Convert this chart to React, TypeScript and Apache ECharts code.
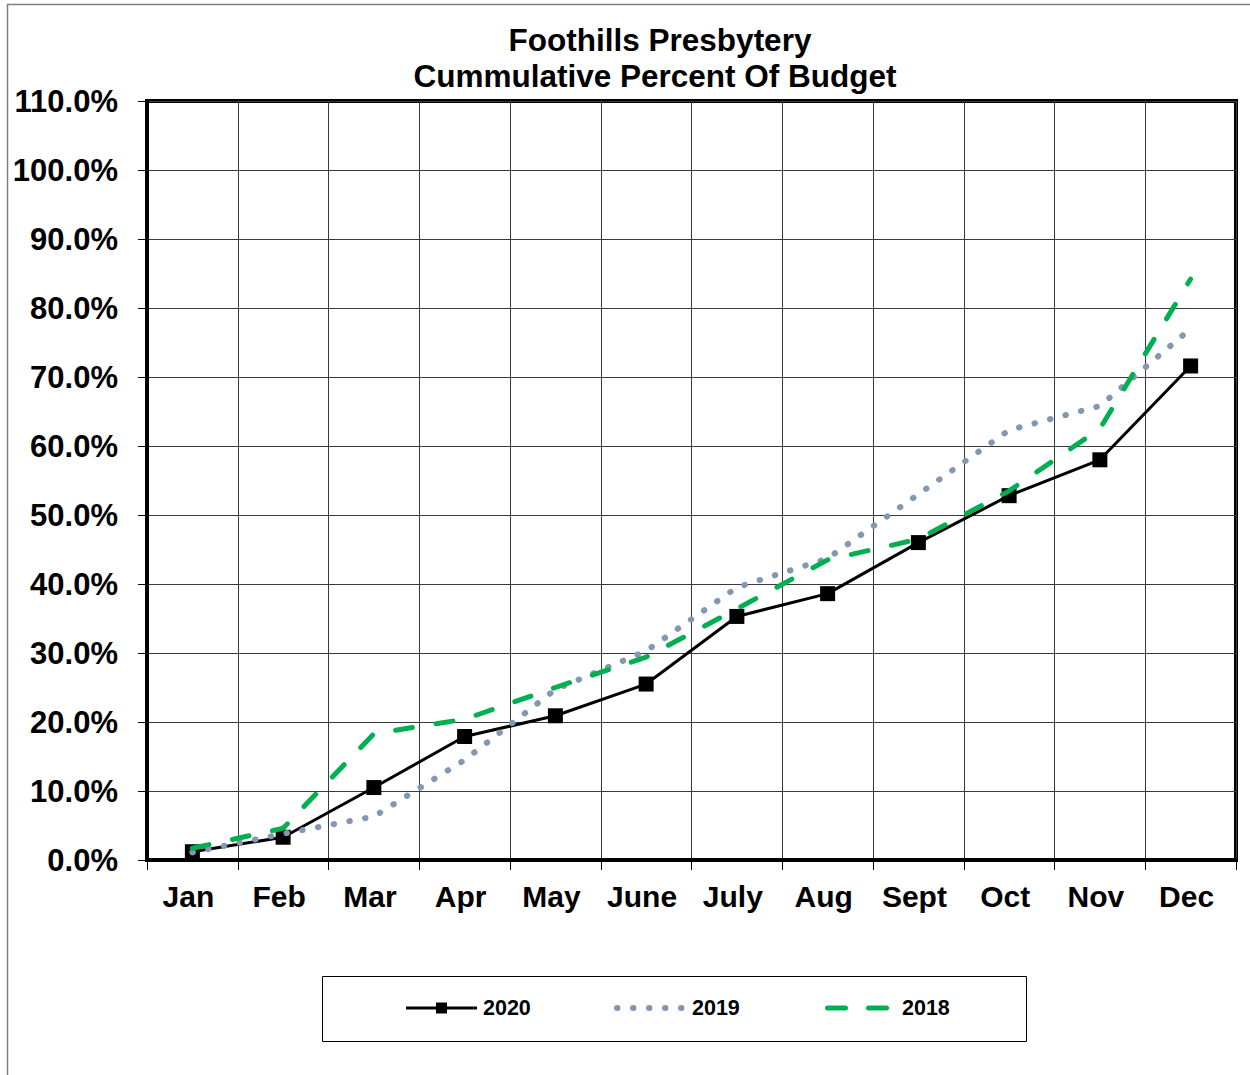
import React, { useEffect, useRef } from "react";
import * as echarts from "echarts";

const months = ["Jan", "Feb", "Mar", "Apr", "May", "June", "July", "Aug", "Sept", "Oct", "Nov", "Dec"];
const values2020 = [1.2, 3.3, 10.5, 17.9, 20.9, 25.5, 35.3, 38.6, 46.0, 52.8, 58.0, 71.6];
const values2019 = [1.1, 3.8, 6.3, 14.5, 24.7, 30.3, 39.5, 43.7, 53.0, 62.3, 65.8, 77.0];
const values2018 = [1.7, 4.6, 18.3, 20.4, 25.0, 29.4, 36.4, 43.5, 46.5, 53.5, 62.5, 84.2];
const seriesNames = ["2020", "2019", "2018"];
const titleLines = ["Foothills Presbytery", "Cummulative Percent Of Budget"];
const yMin = 0;
const yMax = 110;
const yStep = 10;

const FONT = '"Liberation Sans", Arial, Helvetica, sans-serif';
const C2020 = "#000000";
const C2019 = "#8497b0";
const C2018 = "#00b050";

export default function App() {
  const ref = useRef<HTMLDivElement>(null);

  useEffect(() => {
    if (!ref.current) return;
    const chart = echarts.init(ref.current, undefined, { renderer: "svg" });

    const textStyle = (text: string, x: number, y: number, size: number, align: string) => ({
      text,
      x,
      y,
      fill: "#000",
      font: `bold ${size}px ${FONT}`,
      align,
      textAlign: align,
      verticalAlign: "middle",
      textVerticalAlign: "middle",
    });

    const legendY = 1008;
    const graphic: any[] = [
      {
        type: "rect",
        silent: true,
        z: -10,
        shape: { x: 7.5, y: 4.5, width: 1400, height: 1300 },
        style: { fill: "none", stroke: "#7f7f7f", lineWidth: 1.5 },
      },
      { type: "text", style: textStyle(titleLines[0], 660, 40, 31.5, "center") },
      { type: "text", style: textStyle(titleLines[1], 655, 76, 31.5, "center") },
      {
        type: "rect",
        shape: { x: 322.5, y: 976.5, width: 704, height: 65 },
        style: { fill: "#fff", stroke: "#000", lineWidth: 1 },
      },
      {
        type: "line",
        shape: { x1: 406, y1: legendY, x2: 477, y2: legendY },
        style: { stroke: C2020, lineWidth: 3 },
      },
      {
        type: "rect",
        shape: { x: 436, y: legendY - 5.5, width: 11, height: 11 },
        style: { fill: C2020 },
      },
      { type: "text", style: textStyle(seriesNames[0], 483, legendY, 21.5, "left") },
      {
        type: "line",
        shape: { x1: 617, y1: legendY, x2: 683, y2: legendY },
        style: { stroke: C2019, lineWidth: 6, lineDash: [0.5, 15.5], lineCap: "round" },
      },
      { type: "text", style: textStyle(seriesNames[1], 692, legendY, 21.5, "left") },
      {
        type: "line",
        shape: { x1: 827.5, y1: legendY, x2: 886.5, y2: legendY },
        style: { stroke: C2018, lineWidth: 5, lineDash: [18, 23], lineCap: "round" },
      },
      { type: "text", style: textStyle(seriesNames[2], 902, legendY, 21.5, "left") },
    ];

    chart.setOption({
      animation: false,
      backgroundColor: "#ffffff",
      grid: {
        left: 147,
        right: 14,
        top: 101,
        bottom: 215,
        show: true,
        borderColor: "#000",
        borderWidth: 4,
        backgroundColor: "transparent",
        containLabel: false,
      },
      xAxis: {
        type: "category",
        data: months,
        boundaryGap: true,
        axisLine: { show: true, lineStyle: { color: "#000", width: 4 } },
        axisTick: { show: true, inside: false, length: 10, interval: 0, lineStyle: { color: "#000", width: 1 } },
        axisLabel: {
          interval: 0,
          margin: 21,
          color: "#000",
          fontSize: 30,
          fontWeight: "bold",
          fontFamily: FONT,
          padding: [0, 8, 0, 0],
        },
        splitLine: { show: true, interval: 0, lineStyle: { color: "#3a3a3a", width: 1 } },
      },
      yAxis: {
        type: "value",
        min: yMin,
        max: yMax,
        interval: yStep,
        axisLine: { show: true, lineStyle: { color: "#000", width: 4 } },
        axisTick: { show: true, inside: false, length: 9, lineStyle: { color: "#000", width: 1 } },
        axisLabel: {
          margin: 29,
          color: "#000",
          fontSize: 31,
          fontWeight: "bold",
          fontFamily: FONT,
          formatter: (v: number) => v.toFixed(1) + "%",
        },
        splitLine: { show: true, lineStyle: { color: "#3a3a3a", width: 1 } },
      },
      series: [
        {
          name: seriesNames[0],
          type: "line",
          data: values2020,
          symbol: "rect",
          symbolSize: 15,
          itemStyle: { color: C2020 },
          lineStyle: { color: C2020, width: 3 },
          z: 3,
        },
        {
          name: seriesNames[1],
          type: "line",
          data: values2019,
          symbol: "none",
          lineStyle: { color: C2019, width: 6, type: [0.5, 15.5], cap: "round", join: "round" },
          z: 4,
        },
        {
          name: seriesNames[2],
          type: "line",
          data: values2018,
          symbol: "none",
          lineStyle: { color: C2018, width: 5, type: [17, 24], cap: "round", join: "round" },
          z: 5,
        },
      ],
      graphic,
    });

    return () => chart.dispose();
  }, []);

  return (
    <div
      ref={ref}
      style={{ position: "absolute", left: 0, top: 0, width: 1250, height: 1075, background: "#fff" }}
    />
  );
}
